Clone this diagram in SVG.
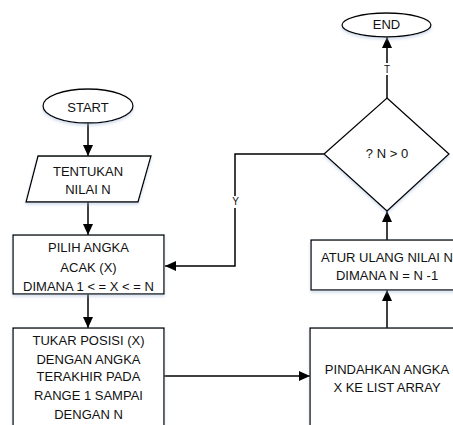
<svg xmlns="http://www.w3.org/2000/svg" width="453" height="425" viewBox="0 0 453 425">
<style>
.shape{fill:#fff;stroke:#000;stroke-width:1.3;filter:url(#sh)}
.t{font-family:"Liberation Sans",Arial,sans-serif;font-size:13px;fill:#111;text-anchor:middle}
.lbl{font-family:"Liberation Sans",Arial,sans-serif;font-size:10px;fill:#111;text-anchor:middle}
.c{fill:none;stroke:#000;stroke-width:1.5}
</style>
<defs>
<filter id="sh" x="-10%" y="-10%" width="120%" height="130%">
<feDropShadow dx="0" dy="2" stdDeviation="1.5" flood-color="#9fb6d6" flood-opacity="0.45"/>
</filter>
<marker id="a" markerUnits="userSpaceOnUse" markerWidth="12" markerHeight="12" refX="11" refY="6" orient="auto">
<path d="M0,1 L11,6 L0,11 Z" fill="#000"/>
</marker>
</defs>
<rect width="453" height="425" fill="#fff"/>
<g id="connectors">
<line class="c" x1="88" y1="123" x2="88" y2="156" marker-end="url(#a)"/>
<line class="c" x1="88" y1="202" x2="88" y2="235" marker-end="url(#a)"/>
<line class="c" x1="88" y1="294" x2="88" y2="328" marker-end="url(#a)"/>
<line class="c" x1="164" y1="376" x2="310" y2="376" marker-end="url(#a)"/>
<line class="c" x1="387" y1="328" x2="387" y2="290" marker-end="url(#a)"/>
<line class="c" x1="387" y1="240" x2="387" y2="211" marker-end="url(#a)"/>
<polyline class="c" points="324,154 235,154 235,266 165,266" marker-end="url(#a)"/>
<line class="c" x1="387" y1="98" x2="387" y2="37" marker-end="url(#a)"/>
<rect x="230" y="196" width="11" height="12" fill="#fff"/>
<text class="lbl" x="235.5" y="204.5">Y</text>
<rect x="382" y="63" width="11" height="12" fill="#fff"/>
<text class="lbl" x="387" y="73">T</text>
</g>
<g id="start">
<ellipse class="shape" cx="88" cy="106" rx="45" ry="17"/>
<text class="t" x="88" y="111.5">START</text>
</g>
<g id="tentukan">
<polygon class="shape" points="38,156 151,156 138,202 26,202"/>
<text class="t" x="88" y="176">TENTUKAN</text>
<text class="t" x="88" y="194">NILAI N</text>
</g>
<g id="pilih">
<rect class="shape" x="13" y="235" width="151" height="59"/>
<text class="t" x="88.5" y="252">PILIH ANGKA</text>
<text class="t" x="88.5" y="271.5">ACAK (X)</text>
<text class="t" x="88.5" y="291">DIMANA 1 &lt; = X &lt; = N</text>
</g>
<g id="tukar">
<rect class="shape" x="13" y="328" width="151" height="110"/>
<text class="t" x="88.5" y="345">TUKAR POSISI (X)</text>
<text class="t" x="88.5" y="364">DENGAN ANGKA</text>
<text class="t" x="88.5" y="381">TERAKHIR PADA</text>
<text class="t" x="88.5" y="400">RANGE 1 SAMPAI</text>
<text class="t" x="88.5" y="419">DENGAN N</text>
</g>
<g id="pindahkan">
<rect class="shape" x="310" y="328" width="160" height="110"/>
<text class="t" x="387" y="374">PINDAHKAN ANGKA</text>
<text class="t" x="387" y="392">X KE LIST ARRAY</text>
</g>
<g id="atur">
<rect class="shape" x="311" y="240" width="160" height="50"/>
<text class="t" x="387" y="262">ATUR ULANG NILAI N</text>
<text class="t" x="387" y="280">DIMANA N = N -1</text>
</g>
<g id="decision">
<polygon class="shape" points="387,98 449,154 387,211 324,154"/>
<text class="t" x="387" y="158">? N &gt; 0</text>
</g>
<g id="end">
<ellipse class="shape" cx="386.5" cy="25" rx="44.5" ry="12"/>
<text class="t" x="386.5" y="29">END</text>
</g>
</svg>
